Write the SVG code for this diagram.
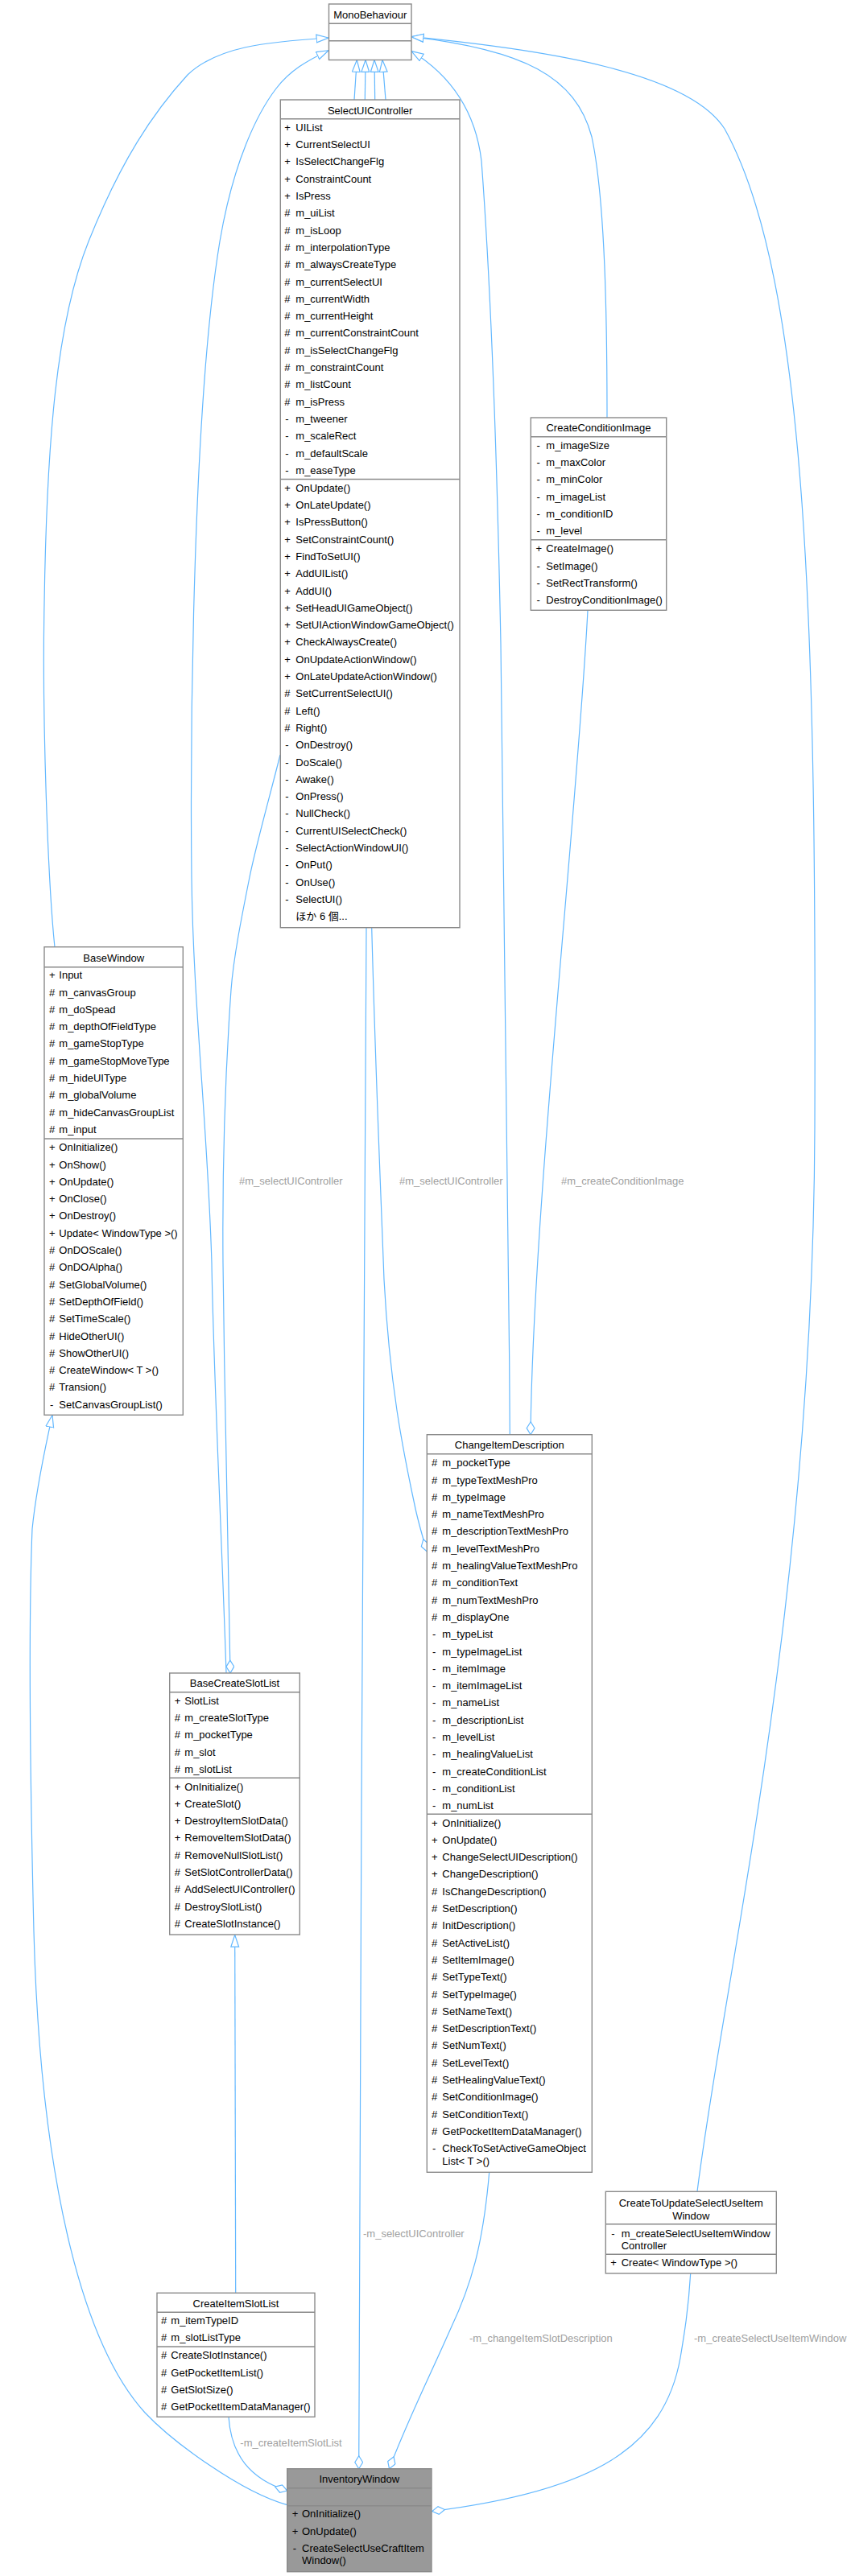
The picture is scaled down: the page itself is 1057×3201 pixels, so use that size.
<svg xmlns="http://www.w3.org/2000/svg" width="1057" height="3201" viewBox="0 0 1057 3201">
<style>
.box{fill:#fff;stroke:#8a8a8a;stroke-width:1.4}
.boxg{fill:#999;stroke:#8a8a8a;stroke-width:1.4}
.sep{stroke:#8a8a8a;stroke-width:1.4}
.t{font-family:"Liberation Sans",Arial,"Noto Sans CJK JP",sans-serif;font-size:13px;fill:#000}
.ti{text-anchor:middle}
.lbl{font-family:"Liberation Sans",Arial,sans-serif;font-size:13px;fill:#a0a0a0}
.e{fill:none;stroke:#63b8ff;stroke-width:1.2}
.inh{marker-end:url(#tri)}
.cmp{marker-end:url(#dia)}
</style>
<defs>
<marker id="tri" markerUnits="userSpaceOnUse" markerWidth="17" markerHeight="12" viewBox="0 0 17 12" refX="15.5" refY="5.5" orient="auto"><path d="M0.6,0.6 L15.5,5.5 L0.6,10.4 Z" fill="#fff" stroke="#63b8ff" stroke-width="1.2"/></marker>
<marker id="dia" markerUnits="userSpaceOnUse" markerWidth="18" markerHeight="12" viewBox="0 0 18 12" refX="16.5" refY="5.5" orient="auto"><path d="M0.6,5.5 L8.5,0.6 L16.5,5.5 L8.5,10.4 Z" fill="#fff" stroke="#63b8ff" stroke-width="1.2"/></marker>
</defs>
<rect width="1057" height="3201" fill="#fff"/>
<g id="connectors">
<path class="e inh" d="M68,1177 C60,1100 52,900 55,750 C58,550 70,400 110,300 C150,200 190,140 233,93 C270,58 330,52 408,47"/>
<path class="e inh" d="M281,2079 C275,1900 265,1700 263,1570 C258,1400 240,1250 238,1090 C236,900 240,500 273,300 C290,200 320,140 343,110 C360,88 380,76 408,62.7"/>
<path class="e inh" d="M440,124 L443.3,74.5"/>
<path class="e inh" d="M453.3,124 L454,74.5"/>
<path class="e inh" d="M465.7,124 L465,74.5"/>
<path class="e inh" d="M479,124 L475,74.5"/>
<path class="e inh" d="M633.3,1782.7 C631,1400 626,1000 622,800 C619,650 613,400 598,200 C592,150 570,100 511,63.6"/>
<path class="e inh" d="M754,519 C754,400 752,250 735,170 C715,95 650,62 511,45.7"/>
<path class="e inh" d="M866,2723.3 C900,2450 1010,2000 1012,1400 C1014,800 1005,350 900,160 C855,90 680,62 511,45.7"/>
<path class="e inh" d="M356.7,3112.7 C300,3097 215,3035 180,2998 C100,2910 50,2700 42,2400 C36,2150 36,2000 40,1900 C45,1850 58,1790 65,1758.5"/>
<path class="e inh" d="M292.7,2849.3 L291.7,2404.3"/>
<path class="e cmp" d="M348,938 C335,990 318,1050 310,1090 C300,1140 290,1190 287,1230 C280,1330 276,1450 277,1570 C279,1750 284,1950 286,2079"/>
<path class="e cmp" d="M461.7,1153 C467,1350 473,1480 477,1590 C484,1720 500,1800 515,1870 C519,1890 525,1910 530.3,1928"/>
<path class="e cmp" d="M455,1153 C453,1500 447,2500 445.7,3067.7"/>
<path class="e cmp" d="M730,758.3 C718,1000 662,1500 659,1782.7"/>
<path class="e cmp" d="M607.7,2699.3 C600,2790 585,2840 560,2893 C535,2950 505,3010 483.5,3067.7"/>
<path class="e cmp" d="M857.7,2825 C855,2870 850,2900 845,2930 C825,3040 740,3095 536.7,3120.5"/>
<path class="e cmp" d="M284,3003.3 C287,3050 310,3080 356.7,3095"/>
<text class="lbl" x="297" y="1472.2">#m_selectUIController</text>
<text class="lbl" x="496" y="1472.2">#m_selectUIController</text>
<text class="lbl" x="697" y="1472.2">#m_createConditionImage</text>
<text class="lbl" x="451" y="2779.5">-m_selectUIController</text>
<text class="lbl" x="583" y="2910">-m_changeItemSlotDescription</text>
<text class="lbl" x="862" y="2910">-m_createSelectUseItemWindow</text>
<text class="lbl" x="298.3" y="3040.2">-m_createItemSlotList</text>
</g>
<g id="MonoBehaviour">
<rect class="box" x="408.5" y="5" width="102.5" height="69.5"/>
<line class="sep" x1="408.5" y1="29.3" x2="511" y2="29.3"/>
<line class="sep" x1="408.5" y1="50.7" x2="511" y2="50.7"/>
<text class="t ti" x="459.7" y="22.8">MonoBehaviour</text>
</g>
<g id="SelectUIController">
<rect class="box" x="348.3" y="124" width="222.7" height="1028.7"/>
<line class="sep" x1="348.3" y1="147.7" x2="571" y2="147.7"/>
<line class="sep" x1="348.3" y1="595.5" x2="571" y2="595.5"/>
<text class="t ti" x="459.7" y="141.8">SelectUIController</text>
<text class="t">
<tspan x="353.3" y="162.8">+</tspan><tspan x="367.3">UIList</tspan>
<tspan x="353.3" y="184.1">+</tspan><tspan x="367.3">CurrentSelectUI</tspan>
<tspan x="353.3" y="205.4">+</tspan><tspan x="367.3">IsSelectChangeFlg</tspan>
<tspan x="353.3" y="226.7">+</tspan><tspan x="367.3">ConstraintCount</tspan>
<tspan x="353.3" y="248">+</tspan><tspan x="367.3">IsPress</tspan>
<tspan x="353.3" y="269.3">#</tspan><tspan x="367.3">m_uiList</tspan>
<tspan x="353.3" y="290.6">#</tspan><tspan x="367.3">m_isLoop</tspan>
<tspan x="353.3" y="311.9">#</tspan><tspan x="367.3">m_interpolationType</tspan>
<tspan x="353.3" y="333.2">#</tspan><tspan x="367.3">m_alwaysCreateType</tspan>
<tspan x="353.3" y="354.5">#</tspan><tspan x="367.3">m_currentSelectUI</tspan>
<tspan x="353.3" y="375.8">#</tspan><tspan x="367.3">m_currentWidth</tspan>
<tspan x="353.3" y="397.1">#</tspan><tspan x="367.3">m_currentHeight</tspan>
<tspan x="353.3" y="418.4">#</tspan><tspan x="367.3">m_currentConstraintCount</tspan>
<tspan x="353.3" y="439.7">#</tspan><tspan x="367.3">m_isSelectChangeFlg</tspan>
<tspan x="353.3" y="461">#</tspan><tspan x="367.3">m_constraintCount</tspan>
<tspan x="353.3" y="482.3">#</tspan><tspan x="367.3">m_listCount</tspan>
<tspan x="353.3" y="503.6">#</tspan><tspan x="367.3">m_isPress</tspan>
<tspan x="354.3" y="524.9">-</tspan><tspan x="367.3">m_tweener</tspan>
<tspan x="354.3" y="546.2">-</tspan><tspan x="367.3">m_scaleRect</tspan>
<tspan x="354.3" y="567.5">-</tspan><tspan x="367.3">m_defaultScale</tspan>
<tspan x="354.3" y="588.8">-</tspan><tspan x="367.3">m_easeType</tspan>
</text>
<text class="t">
<tspan x="353.3" y="610.7">+</tspan><tspan x="367.3">OnUpdate()</tspan>
<tspan x="353.3" y="632">+</tspan><tspan x="367.3">OnLateUpdate()</tspan>
<tspan x="353.3" y="653.3">+</tspan><tspan x="367.3">IsPressButton()</tspan>
<tspan x="353.3" y="674.6">+</tspan><tspan x="367.3">SetConstraintCount()</tspan>
<tspan x="353.3" y="695.9">+</tspan><tspan x="367.3">FindToSetUI()</tspan>
<tspan x="353.3" y="717.2">+</tspan><tspan x="367.3">AddUIList()</tspan>
<tspan x="353.3" y="738.5">+</tspan><tspan x="367.3">AddUI()</tspan>
<tspan x="353.3" y="759.8">+</tspan><tspan x="367.3">SetHeadUIGameObject()</tspan>
<tspan x="353.3" y="781.1">+</tspan><tspan x="367.3">SetUIActionWindowGameObject()</tspan>
<tspan x="353.3" y="802.4">+</tspan><tspan x="367.3">CheckAlwaysCreate()</tspan>
<tspan x="353.3" y="823.7">+</tspan><tspan x="367.3">OnUpdateActionWindow()</tspan>
<tspan x="353.3" y="845">+</tspan><tspan x="367.3">OnLateUpdateActionWindow()</tspan>
<tspan x="353.3" y="866.3">#</tspan><tspan x="367.3">SetCurrentSelectUI()</tspan>
<tspan x="353.3" y="887.6">#</tspan><tspan x="367.3">Left()</tspan>
<tspan x="353.3" y="908.9">#</tspan><tspan x="367.3">Right()</tspan>
<tspan x="354.3" y="930.2">-</tspan><tspan x="367.3">OnDestroy()</tspan>
<tspan x="354.3" y="951.5">-</tspan><tspan x="367.3">DoScale()</tspan>
<tspan x="354.3" y="972.8">-</tspan><tspan x="367.3">Awake()</tspan>
<tspan x="354.3" y="994.1">-</tspan><tspan x="367.3">OnPress()</tspan>
<tspan x="354.3" y="1015.4">-</tspan><tspan x="367.3">NullCheck()</tspan>
<tspan x="354.3" y="1036.7">-</tspan><tspan x="367.3">CurrentUISelectCheck()</tspan>
<tspan x="354.3" y="1058">-</tspan><tspan x="367.3">SelectActionWindowUI()</tspan>
<tspan x="354.3" y="1079.3">-</tspan><tspan x="367.3">OnPut()</tspan>
<tspan x="354.3" y="1100.6">-</tspan><tspan x="367.3">OnUse()</tspan>
<tspan x="354.3" y="1121.9">-</tspan><tspan x="367.3">SelectUI()</tspan>
<tspan x="367.3" y="1143.2">ほか 6 個...</tspan>
</text>
</g>
<g id="CreateConditionImage">
<rect class="box" x="659.3" y="519" width="168.4" height="239.3"/>
<line class="sep" x1="659.3" y1="542.7" x2="827.7" y2="542.7"/>
<line class="sep" x1="659.3" y1="670.7" x2="827.7" y2="670.7"/>
<text class="t ti" x="743.5" y="536.2">CreateConditionImage</text>
<text class="t">
<tspan x="666.5" y="557.8">-</tspan><tspan x="678.3">m_imageSize</tspan>
<tspan x="666.5" y="579.1">-</tspan><tspan x="678.3">m_maxColor</tspan>
<tspan x="666.5" y="600.4">-</tspan><tspan x="678.3">m_minColor</tspan>
<tspan x="666.5" y="621.7">-</tspan><tspan x="678.3">m_imageList</tspan>
<tspan x="666.5" y="643">-</tspan><tspan x="678.3">m_conditionID</tspan>
<tspan x="666.5" y="664.3">-</tspan><tspan x="678.3">m_level</tspan>
<tspan x="665.5" y="686.2">+</tspan><tspan x="678.3">CreateImage()</tspan>
<tspan x="666.5" y="707.5">-</tspan><tspan x="678.3">SetImage()</tspan>
<tspan x="666.5" y="728.8">-</tspan><tspan x="678.3">SetRectTransform()</tspan>
<tspan x="666.5" y="750.1">-</tspan><tspan x="678.3">DestroyConditionImage()</tspan>
</text>
</g>
<g id="BaseWindow">
<rect class="box" x="55" y="1176.7" width="172.3" height="581.6"/>
<line class="sep" x1="55" y1="1201.7" x2="227.3" y2="1201.7"/>
<line class="sep" x1="55" y1="1415" x2="227.3" y2="1415"/>
<text class="t ti" x="141.2" y="1195.2">BaseWindow</text>
<text class="t">
<tspan x="61" y="1216.2">+</tspan><tspan x="73.3">Input</tspan>
<tspan x="61" y="1237.5">#</tspan><tspan x="73.3">m_canvasGroup</tspan>
<tspan x="61" y="1258.8">#</tspan><tspan x="73.3">m_doSpead</tspan>
<tspan x="61" y="1280.1">#</tspan><tspan x="73.3">m_depthOfFieldType</tspan>
<tspan x="61" y="1301.4">#</tspan><tspan x="73.3">m_gameStopType</tspan>
<tspan x="61" y="1322.7">#</tspan><tspan x="73.3">m_gameStopMoveType</tspan>
<tspan x="61" y="1344">#</tspan><tspan x="73.3">m_hideUIType</tspan>
<tspan x="61" y="1365.3">#</tspan><tspan x="73.3">m_globalVolume</tspan>
<tspan x="61" y="1386.6">#</tspan><tspan x="73.3">m_hideCanvasGroupList</tspan>
<tspan x="61" y="1407.9">#</tspan><tspan x="73.3">m_input</tspan>
<tspan x="61" y="1430.2">+</tspan><tspan x="73.3">OnInitialize()</tspan>
<tspan x="61" y="1451.5">+</tspan><tspan x="73.3">OnShow()</tspan>
<tspan x="61" y="1472.8">+</tspan><tspan x="73.3">OnUpdate()</tspan>
<tspan x="61" y="1494.1">+</tspan><tspan x="73.3">OnClose()</tspan>
<tspan x="61" y="1515.4">+</tspan><tspan x="73.3">OnDestroy()</tspan>
<tspan x="61" y="1536.7">+</tspan><tspan x="73.3">Update&lt; WindowType &gt;()</tspan>
<tspan x="61" y="1558">#</tspan><tspan x="73.3">OnDOScale()</tspan>
<tspan x="61" y="1579.3">#</tspan><tspan x="73.3">OnDOAlpha()</tspan>
<tspan x="61" y="1600.6">#</tspan><tspan x="73.3">SetGlobalVolume()</tspan>
<tspan x="61" y="1621.9">#</tspan><tspan x="73.3">SetDepthOfField()</tspan>
<tspan x="61" y="1643.2">#</tspan><tspan x="73.3">SetTimeScale()</tspan>
<tspan x="61" y="1664.5">#</tspan><tspan x="73.3">HideOtherUI()</tspan>
<tspan x="61" y="1685.8">#</tspan><tspan x="73.3">ShowOtherUI()</tspan>
<tspan x="61" y="1707.1">#</tspan><tspan x="73.3">CreateWindow&lt; T &gt;()</tspan>
<tspan x="61" y="1728.4">#</tspan><tspan x="73.3">Transion()</tspan>
<tspan x="62" y="1749.7">-</tspan><tspan x="73.3">SetCanvasGroupList()</tspan>
</text>
</g>
<g id="ChangeItemDescription">
<rect class="box" x="530.3" y="1782.7" width="205" height="916.6"/>
<line class="sep" x1="530.3" y1="1806.7" x2="735.3" y2="1806.7"/>
<line class="sep" x1="530.3" y1="2254.3" x2="735.3" y2="2254.3"/>
<text class="t ti" x="632.8" y="1799.5">ChangeItemDescription</text>
<text class="t">
<tspan x="536" y="1822.2">#</tspan><tspan x="549.3">m_pocketType</tspan>
<tspan x="536" y="1843.5">#</tspan><tspan x="549.3">m_typeTextMeshPro</tspan>
<tspan x="536" y="1864.8">#</tspan><tspan x="549.3">m_typeImage</tspan>
<tspan x="536" y="1886.1">#</tspan><tspan x="549.3">m_nameTextMeshPro</tspan>
<tspan x="536" y="1907.4">#</tspan><tspan x="549.3">m_descriptionTextMeshPro</tspan>
<tspan x="536" y="1928.7">#</tspan><tspan x="549.3">m_levelTextMeshPro</tspan>
<tspan x="536" y="1950">#</tspan><tspan x="549.3">m_healingValueTextMeshPro</tspan>
<tspan x="536" y="1971.3">#</tspan><tspan x="549.3">m_conditionText</tspan>
<tspan x="536" y="1992.6">#</tspan><tspan x="549.3">m_numTextMeshPro</tspan>
<tspan x="536" y="2013.9">#</tspan><tspan x="549.3">m_displayOne</tspan>
<tspan x="537" y="2035.2">-</tspan><tspan x="549.3">m_typeList</tspan>
<tspan x="537" y="2056.5">-</tspan><tspan x="549.3">m_typeImageList</tspan>
<tspan x="537" y="2077.8">-</tspan><tspan x="549.3">m_itemImage</tspan>
<tspan x="537" y="2099.1">-</tspan><tspan x="549.3">m_itemImageList</tspan>
<tspan x="537" y="2120.4">-</tspan><tspan x="549.3">m_nameList</tspan>
<tspan x="537" y="2141.7">-</tspan><tspan x="549.3">m_descriptionList</tspan>
<tspan x="537" y="2163">-</tspan><tspan x="549.3">m_levelList</tspan>
<tspan x="537" y="2184.3">-</tspan><tspan x="549.3">m_healingValueList</tspan>
<tspan x="537" y="2205.6">-</tspan><tspan x="549.3">m_createConditionList</tspan>
<tspan x="537" y="2226.9">-</tspan><tspan x="549.3">m_conditionList</tspan>
<tspan x="537" y="2248.2">-</tspan><tspan x="549.3">m_numList</tspan>
</text>
<text class="t">
<tspan x="536" y="2269.5">+</tspan><tspan x="549.3">OnInitialize()</tspan>
<tspan x="536" y="2290.8">+</tspan><tspan x="549.3">OnUpdate()</tspan>
<tspan x="536" y="2312.1">+</tspan><tspan x="549.3">ChangeSelectUIDescription()</tspan>
<tspan x="536" y="2333.4">+</tspan><tspan x="549.3">ChangeDescription()</tspan>
<tspan x="536" y="2354.7">#</tspan><tspan x="549.3">IsChangeDescription()</tspan>
<tspan x="536" y="2376">#</tspan><tspan x="549.3">SetDescription()</tspan>
<tspan x="536" y="2397.3">#</tspan><tspan x="549.3">InitDescription()</tspan>
<tspan x="536" y="2418.6">#</tspan><tspan x="549.3">SetActiveList()</tspan>
<tspan x="536" y="2439.9">#</tspan><tspan x="549.3">SetItemImage()</tspan>
<tspan x="536" y="2461.2">#</tspan><tspan x="549.3">SetTypeText()</tspan>
<tspan x="536" y="2482.5">#</tspan><tspan x="549.3">SetTypeImage()</tspan>
<tspan x="536" y="2503.8">#</tspan><tspan x="549.3">SetNameText()</tspan>
<tspan x="536" y="2525.1">#</tspan><tspan x="549.3">SetDescriptionText()</tspan>
<tspan x="536" y="2546.4">#</tspan><tspan x="549.3">SetNumText()</tspan>
<tspan x="536" y="2567.7">#</tspan><tspan x="549.3">SetLevelText()</tspan>
<tspan x="536" y="2589">#</tspan><tspan x="549.3">SetHealingValueText()</tspan>
<tspan x="536" y="2610.3">#</tspan><tspan x="549.3">SetConditionImage()</tspan>
<tspan x="536" y="2631.6">#</tspan><tspan x="549.3">SetConditionText()</tspan>
<tspan x="536" y="2652.9">#</tspan><tspan x="549.3">GetPocketItemDataManager()</tspan>
<tspan x="537" y="2674.2">-</tspan><tspan x="549.3">CheckToSetActiveGameObject</tspan>
<tspan x="549.3" y="2689.5">List&lt; T &gt;()</tspan>
</text>
</g>
<g id="BaseCreateSlotList">
<rect class="box" x="210.7" y="2079" width="161.6" height="325"/>
<line class="sep" x1="210.7" y1="2102.7" x2="372.3" y2="2102.7"/>
<line class="sep" x1="210.7" y1="2209.3" x2="372.3" y2="2209.3"/>
<text class="t ti" x="291.5" y="2096.2">BaseCreateSlotList</text>
<text class="t">
<tspan x="216.7" y="2117.8">+</tspan><tspan x="229.3">SlotList</tspan>
<tspan x="216.7" y="2139.1">#</tspan><tspan x="229.3">m_createSlotType</tspan>
<tspan x="216.7" y="2160.4">#</tspan><tspan x="229.3">m_pocketType</tspan>
<tspan x="216.7" y="2181.7">#</tspan><tspan x="229.3">m_slot</tspan>
<tspan x="216.7" y="2203">#</tspan><tspan x="229.3">m_slotList</tspan>
<tspan x="216.7" y="2224.5">+</tspan><tspan x="229.3">OnInitialize()</tspan>
<tspan x="216.7" y="2245.8">+</tspan><tspan x="229.3">CreateSlot()</tspan>
<tspan x="216.7" y="2267.1">+</tspan><tspan x="229.3">DestroyItemSlotData()</tspan>
<tspan x="216.7" y="2288.4">+</tspan><tspan x="229.3">RemoveItemSlotData()</tspan>
<tspan x="216.7" y="2309.7">#</tspan><tspan x="229.3">RemoveNullSlotList()</tspan>
<tspan x="216.7" y="2331">#</tspan><tspan x="229.3">SetSlotControllerData()</tspan>
<tspan x="216.7" y="2352.3">#</tspan><tspan x="229.3">AddSelectUIController()</tspan>
<tspan x="216.7" y="2373.6">#</tspan><tspan x="229.3">DestroySlotList()</tspan>
<tspan x="216.7" y="2394.9">#</tspan><tspan x="229.3">CreateSlotInstance()</tspan>
</text>
</g>
<g id="CreateToUpdateSelectUseItemWindow">
<rect class="box" x="752.3" y="2723.3" width="212" height="101.7"/>
<line class="sep" x1="752.3" y1="2763.7" x2="964.3" y2="2763.7"/>
<line class="sep" x1="752.3" y1="2801.3" x2="964.3" y2="2801.3"/>
<text class="t ti" x="858.3" y="2742.2">CreateToUpdateSelectUseItem</text>
<text class="t ti" x="858.3" y="2757.8">Window</text>
<text class="t">
<tspan x="759.3" y="2779.5">-</tspan><tspan x="771.7">m_createSelectUseItemWindow</tspan>
<tspan x="771.7" y="2794.5">Controller</tspan>
<tspan x="758.3" y="2816.2">+</tspan><tspan x="771.7">Create&lt; WindowType &gt;()</tspan>
</text>
</g>
<g id="CreateItemSlotList">
<rect class="box" x="195" y="2849.3" width="196" height="154"/>
<line class="sep" x1="195" y1="2873.3" x2="391" y2="2873.3"/>
<line class="sep" x1="195" y1="2916" x2="391" y2="2916"/>
<text class="t ti" x="293" y="2866.8">CreateItemSlotList</text>
<text class="t">
<tspan x="200" y="2887.8">#</tspan><tspan x="212.3">m_itemTypeID</tspan>
<tspan x="200" y="2909.3">#</tspan><tspan x="212.3">m_slotListType</tspan>
<tspan x="200" y="2931.2">#</tspan><tspan x="212.3">CreateSlotInstance()</tspan>
<tspan x="200" y="2952.5">#</tspan><tspan x="212.3">GetPocketItemList()</tspan>
<tspan x="200" y="2973.8">#</tspan><tspan x="212.3">GetSlotSize()</tspan>
<tspan x="200" y="2995.1">#</tspan><tspan x="212.3">GetPocketItemDataManager()</tspan>
</text>
</g>
<g id="InventoryWindow">
<rect class="boxg" x="356.7" y="3067.7" width="179.3" height="128"/>
<line class="sep" x1="356.7" y1="3091.7" x2="536" y2="3091.7"/>
<line class="sep" x1="356.7" y1="3113.7" x2="536" y2="3113.7"/>
<text class="t ti" x="446.3" y="3085.2">InventoryWindow</text>
<text class="t">
<tspan x="362.7" y="3127.8">+</tspan><tspan x="375">OnInitialize()</tspan>
<tspan x="362.7" y="3149.5">+</tspan><tspan x="375">OnUpdate()</tspan>
<tspan x="363.7" y="3171.2">-</tspan><tspan x="375">CreateSelectUseCraftItem</tspan>
<tspan x="375" y="3186.2">Window()</tspan>
</text>
</g>
</svg>
